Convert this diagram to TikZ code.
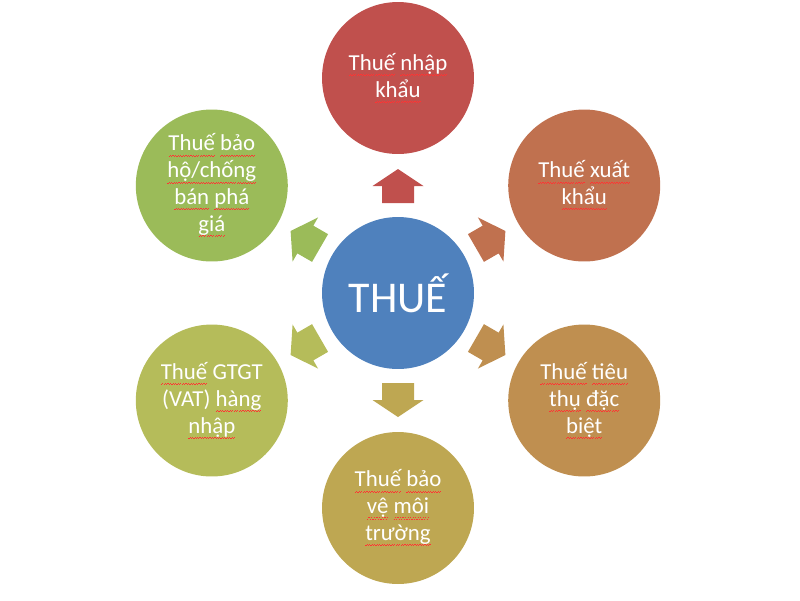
\documentclass[tikz,border=0pt]{standalone}
\usepackage{fontspec}
\setmainfont{Carlito}
\newcommand\sai[1]{\leavevmode\setbox0\hbox{#1}%
  \rlap{\hbox to\wd0{\color{red!80}\xleaders\hbox{\rule[-3.3pt]{0.7pt}{0.55pt}\rule[-2.7pt]{0.7pt}{0.55pt}}\hfil}}\box0\relax}
\definecolor{mauThue}{HTML}{4F81BD}
\definecolor{mauA}{HTML}{C0504D}
\definecolor{mauB}{HTML}{C0714F}
\definecolor{mauC}{HTML}{BF8F50}
\definecolor{mauD}{HTML}{BEA752}
\definecolor{mauE}{HTML}{B5BC5A}
\definecolor{mauF}{HTML}{9BBB59}
\tikzset{
  vong/.style={circle, minimum size=3.04cm, inner sep=0pt, align=center,
    text=white, font=\fontsize{13}{15.3}\selectfont},
}
\begin{document}
\begin{tikzpicture}[x=0.02cm, y=0.02cm]
\useasboundingbox (-398,-307) rectangle (402,293);   %画布

\node[vong, fill=mauThue, font=\fontsize{25}{30}\selectfont] (thue) at (0,0) {THUẾ};   %中心圆

\foreach \a/\c in {90/mauA,30/mauB,-30/mauC,-90/mauD,-150/mauE,150/mauF}
{
	\fill[\c, rotate=\a] (90,-16) -- (107,-16) -- (107,-25.5) -- (124,0)
	  -- (107,25.5) -- (107,16) -- (90,16) -- cycle;
};                                  %箭头

\node[vong, fill=mauA] (nhapkhau) at (90:215) {\sai{Thuế} \sai{nhập}\\\sai{khẩu}};
\node[vong, fill=mauB] (xuatkhau) at (30:215) {\sai{Thuế} \sai{xuất}\\\sai{khẩu}};
\node[vong, fill=mauC] (tieuthu) at (-30:215) {\sai{Thuế} \sai{tiêu}\\\sai{thụ} \sai{đặc}\\\sai{biệt}};
\node[vong, fill=mauD] (moitruong) at (-90:215) {\sai{Thuế} \sai{bảo}\\\sai{vệ} \sai{môi}\\\sai{trường}};
\node[vong, fill=mauE] (gtgt) at (-150:215) {\sai{Thuế} GTGT\\(VAT) \sai{hàng}\\\sai{nhập}};
\node[vong, fill=mauF] (baoho) at (150:215) {\sai{Thuế} \sai{bảo}\\\sai{hộ/chống}\\\sai{bán} \sai{phá}\\\sai{giá}};   %外圈
\end{tikzpicture}
\end{document}
